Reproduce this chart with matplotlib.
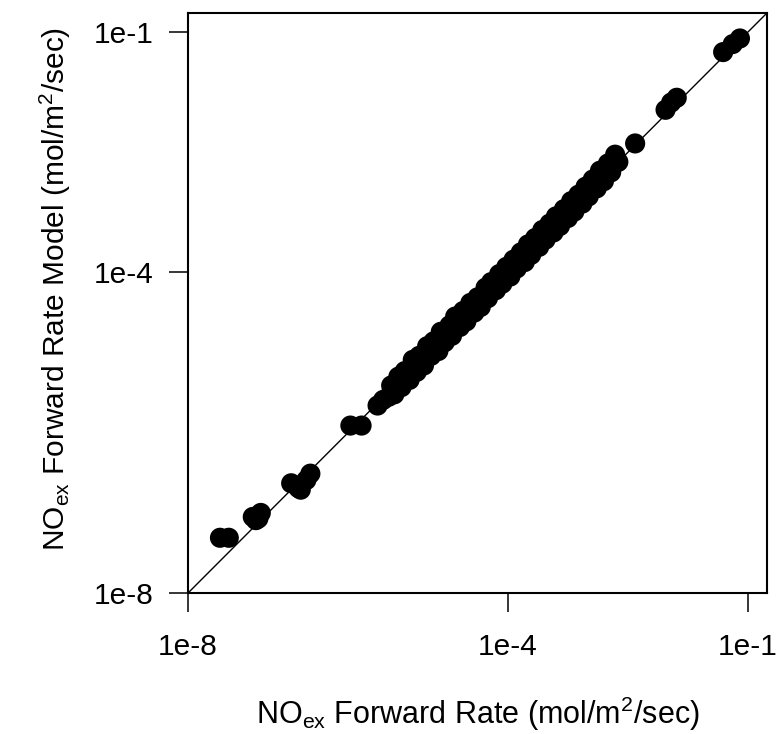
import numpy as np
import matplotlib
matplotlib.use("Agg")
import matplotlib.pyplot as plt

plt.rcParams["font.family"] = ["Liberation Sans", "DejaVu Sans"]
plt.rcParams["mathtext.fontset"] = "custom"
plt.rcParams["mathtext.rm"] = "Liberation Sans"
plt.rcParams["mathtext.it"] = "Liberation Sans"

log_measured = [
    -7.60, -7.49,
    -7.19, -7.09, -7.15, -7.12,
    -6.71, -6.62, -6.47, -6.52, -6.59,
    -5.97, -5.83,
    -5.63, -5.56, -5.49,
    -5.46, -5.42, -5.37, -5.33, -5.29, -5.23, -5.19, -5.14, -5.11, -5.05,
    -5.01, -4.96, -4.93, -4.87, -4.84, -4.79, -4.73, -4.70, -4.66, -4.60,
    -4.56, -4.52, -4.47, -4.42, -4.38, -4.34, -4.28, -4.25, -4.21, -4.15,
    -4.11, -4.07, -4.02, -3.97, -3.93, -3.89, -3.84, -3.79, -3.75, -3.71,
    -3.66, -3.61, -3.57, -3.53, -3.48, -3.43, -3.40, -3.35, -3.30, -3.25,
    -3.21, -3.17, -3.12, -3.07, -3.03, -2.99, -2.94, -2.89, -2.85, -2.80,
    -2.75, -2.71, -2.66, -2.62,
    -2.41,
    -2.03, -1.89, -1.96,
    -1.31, -1.19, -1.10,
]
log_model = [
    -7.31, -7.31,
    -7.05, -7.00, -7.09, -7.07,
    -6.63, -6.69, -6.51, -6.59, -6.71,
    -5.91, -5.91,
    -5.66, -5.59, -5.55,
    -5.41, -5.52, -5.30, -5.43, -5.23, -5.34, -5.09, -5.24, -5.04, -5.16,
    -4.92, -5.04, -4.86, -4.98, -4.74, -4.87, -4.66, -4.79, -4.55, -4.68,
    -4.48, -4.61, -4.38, -4.50, -4.31, -4.43, -4.19, -4.32, -4.12, -4.22,
    -4.02, -4.14, -3.93, -4.05, -3.84, -3.95, -3.75, -3.87, -3.65, -3.78,
    -3.57, -3.68, -3.47, -3.59, -3.39, -3.50, -3.30, -3.42, -3.21, -3.32,
    -3.11, -3.24, -3.03, -3.14, -2.93, -3.05, -2.84, -2.95, -2.73, -2.86,
    -2.64, -2.75, -2.53, -2.62,
    -2.39,
    -1.97, -1.82, -1.88,
    -1.25, -1.15, -1.08,
]

tick_values = [1e-8, 1e-4, 1e-1]
tick_labels = ["1e-8", "1e-4", "1e-1"]

measured = 10 ** np.array(log_measured)
model = 10 ** np.array(log_model)

fig = plt.figure(figsize=(7.8, 7.34), dpi=100)
ax = fig.add_axes([0.241, 0.192, 0.742, 0.790])

ax.set_xscale("log")
ax.set_yscale("log")
lim = (1e-8, 10 ** -0.765)
ax.set_xlim(lim)
ax.set_ylim(lim)

ax.plot(lim, lim, color="black", linewidth=1.0, zorder=2)
ax.scatter(measured, model, s=210, color="black", edgecolors="none", zorder=3)

ax.set_xticks(tick_values)
ax.set_xticklabels(tick_labels)
ax.set_yticks(tick_values)
ax.set_yticklabels(tick_labels)
ax.minorticks_off()
ax.tick_params(axis="both", which="major", direction="out", length=14,
               width=1.1, labelsize=21.5)
ax.tick_params(axis="x", pad=15)
ax.tick_params(axis="y", pad=11)

for spine in ax.spines.values():
    spine.set_linewidth(1.5)

ax.set_xlabel(r"NO$_{\mathrm{ex}}$ Forward Rate (mol/m$^2$/sec)", fontsize=22,
              labelpad=24)
ax.set_ylabel(r"NO$_{\mathrm{ex}}$ Forward Rate Model (mol/m$^2$/sec)", fontsize=21.5)
ax.yaxis.set_label_coords(-0.198, 0.525)

fig.savefig("out.png", dpi=100)
